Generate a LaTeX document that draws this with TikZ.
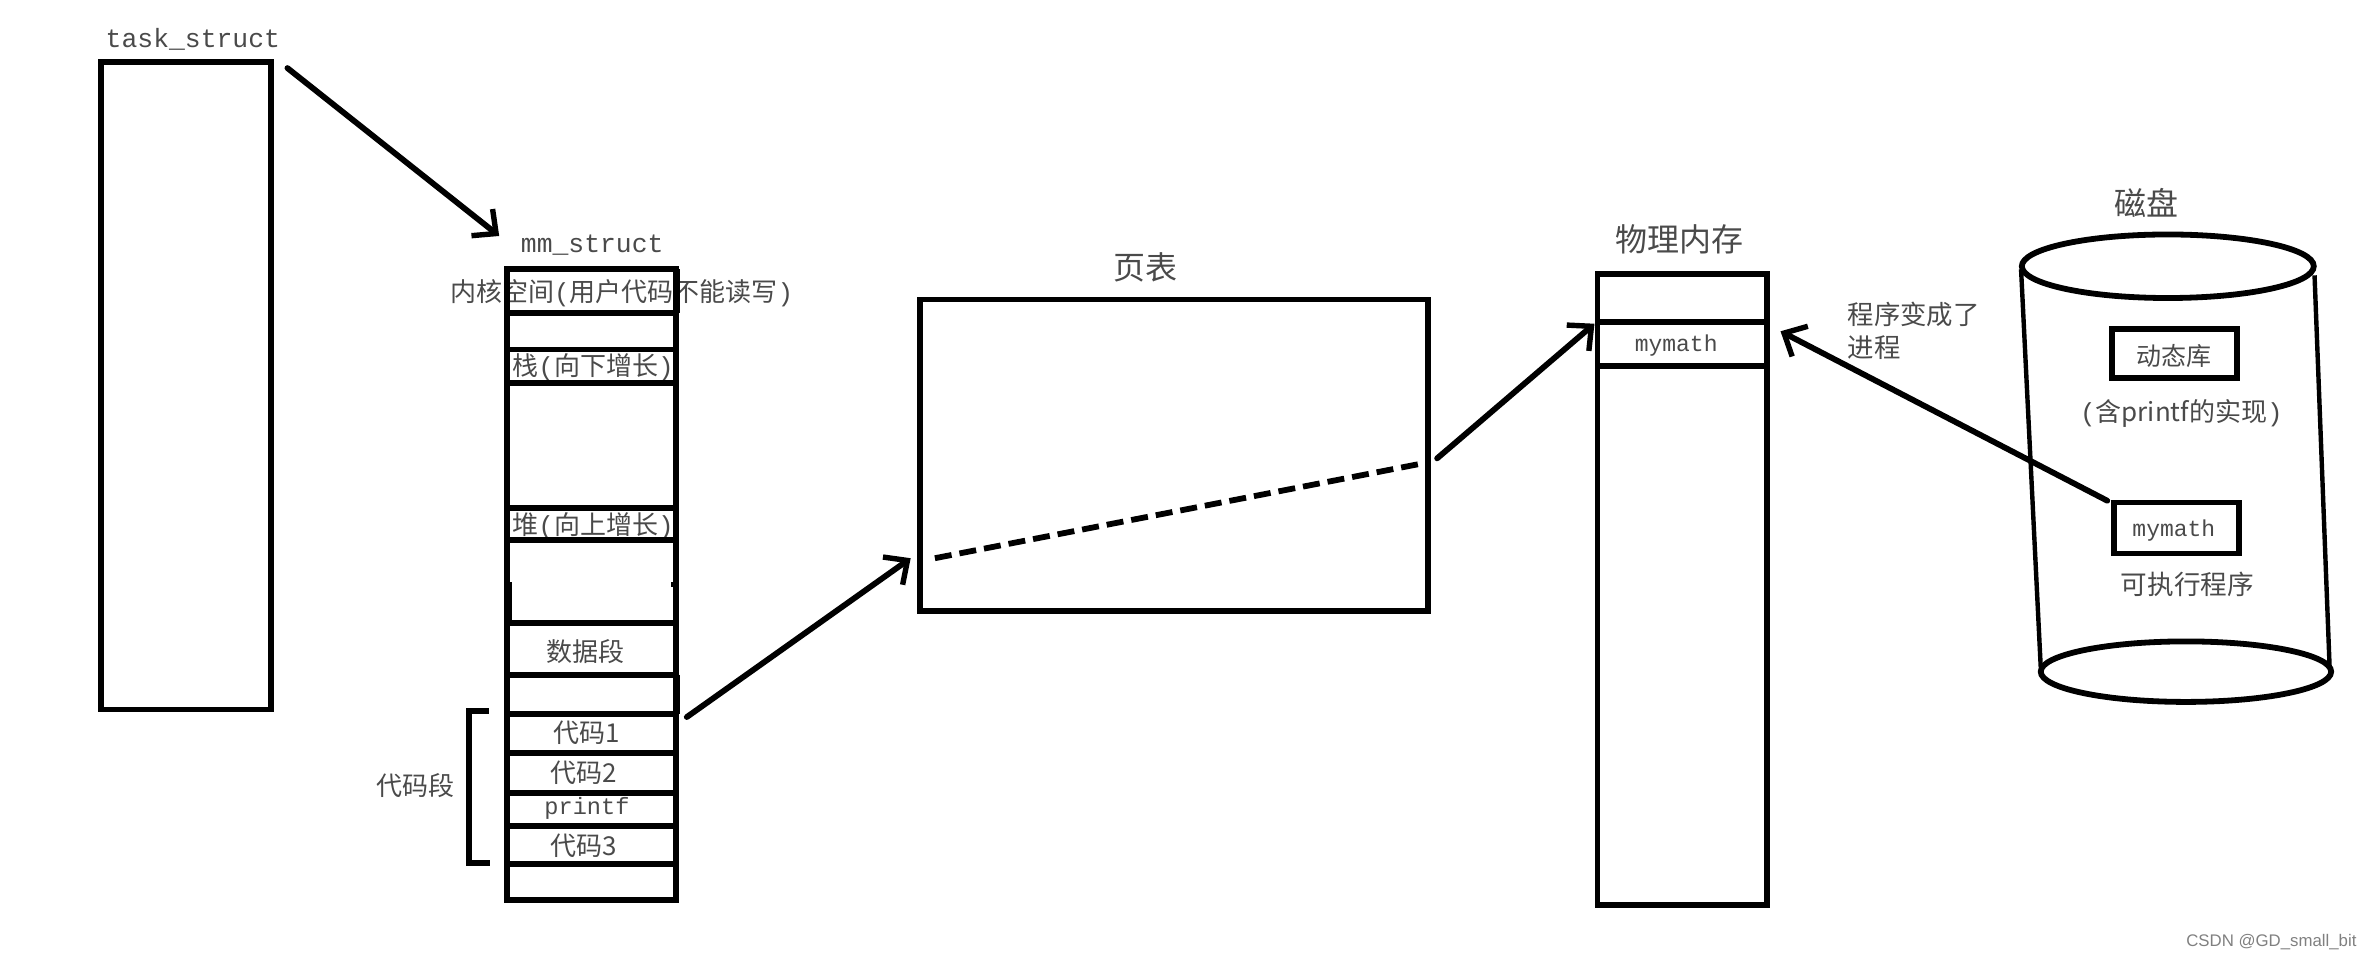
\documentclass[tikz,border=0pt]{standalone}
\usepackage{fontspec}
\setmainfont{Noto Sans CJK SC}
\newfontfamily\cjkf{Noto Sans CJK SC}
\newfontfamily\latf{Liberation Mono}
\newfontfamily\wmf{Liberation Sans}
\newcommand{\lpar}{{\latf(}}
\newcommand{\rpar}{{\latf)}}
\usetikzlibrary{arrows.meta}
\definecolor{txt}{HTML}{4A4A4A}
\tikzset{
  x=0.7564pt,y=-0.7564pt,
  boxline/.style={draw=black,line width=2.9pt},
  box/.style={boxline,minimum width=0pt,minimum height=0pt,inner sep=0pt},
  lab/.style={text=txt,inner sep=0pt,font=\fontsize{13}{15}\selectfont\cjkf},
  biglab/.style={text=txt,inner sep=0pt,font=\fontsize{16}{18}\selectfont\cjkf},
  mono/.style={text=txt,inner sep=0pt,font=\fontsize{13.2}{15}\selectfont\latf},
  conn/.style={draw=black,line width=2.9pt,line cap=round},
  arr/.style={conn,-{Straight Barb[length=9pt,width=17pt,line width=2.7pt]}},
  dash line/.style={conn,line cap=butt,dash pattern=on 8.5pt off 4pt},
  rule/.style={draw=black,line width=2.9pt,line cap=butt}
}
\begin{document}
\begin{tikzpicture}
\useasboundingbox (0,0) rectangle (1568,634.6);
% task_struct
\node[box,minimum width=84.7pt,minimum height=323.7pt] (task) at (123,255) {};
\node[mono] (tasklabel) at (127.5,26) {task\_struct};
% mm_struct labels
\node[mono] (mmlabel) at (391.5,162) {mm\_struct};
\node[lab] (kern) at (411,193.5) {内核空间\lpar 用户代码不能读写\rpar};
\node[lab] (stack) at (392,243) {栈\lpar 向下增长\rpar};
\node[lab] (heap) at (392,348) {堆\lpar 向上增长\rpar};
\node[lab] (data) at (387,431) {数据段};
\node[lab] (c1) at (388,484.5) {代码1};
\node[lab] (c2) at (386,511) {代码2};
\node[mono,font=\fontsize{11.8}{15}\selectfont\latf] (pf) at (388,534.5) {printf};
\node[lab] (c3) at (386,559) {代码3};
\node[lab] (cseg) at (274.5,519) {代码段};
% mm_struct box
\node[box,minimum width=84.7pt,minimum height=315.4pt] (mm) at (391,386.5) {};
\foreach \yy in {207,231,253,336,357,412,446,472,498,524,546,571}{
  \draw[rule] (335,\yy) -- (447,\yy);
}
\draw[rule,line width=1.2pt] (449,178) -- (449,207);
\draw[rule,line width=1.2pt] (449,446) -- (449,472);
\draw[rule,line width=1pt] (337.5,385) -- (337.5,412);
\draw[rule,line width=1pt] (444.5,385) -- (444.5,388);
\draw[rule] (323,470) -- (310,470) -- (310,570.5) -- (324,570.5);
% page table
\node[box,minimum width=254.2pt,minimum height=155.8pt] (pt) at (776,301) {};
\node[biglab] (ptlabel) at (757.5,177) {页表};
% physical memory
\node[box,minimum width=84.7pt,minimum height=315.4pt] (phys) at (1112,389.5) {};
\draw[rule] (1056,213) -- (1168,213);
\draw[rule] (1056,242) -- (1168,242);
\node[biglab] (physlabel) at (1110,158) {物理内存};
\node[mono,font=\fontsize{11.5}{14}\selectfont\latf] (mm1) at (1108,228.5) {mymath};
% disk
\draw[boxline] (1433,176) ellipse [x radius=96.5,y radius=21];
\draw[boxline] (1445,444) ellipse [x radius=96,y radius=20];
\draw[rule,line width=2.2pt] (1336,178) -- (1349,441);
\draw[rule,line width=2.2pt] (1530,182) -- (1540,442);
\node[biglab] (disk) at (1419,134) {磁盘};
\node[box,minimum width=62.5pt,minimum height=24.5pt] (lib) at (1437.5,233.5) {};
\node[lab,font=\fontsize{12.5}{15}\selectfont\cjkf] (libt) at (1437,235.5) {动态库};
\node[lab] (impl) at (1442,273) {\lpar 含printf的实现\rpar};
\node[box,minimum width=62.5pt,minimum height=25.5pt] (exe) at (1439,349) {};
\node[mono,font=\fontsize{11.5}{14}\selectfont\latf] (exet) at (1437,350.5) {mymath};
\node[lab,font=\fontsize{13.3}{15}\selectfont\cjkf] (exel) at (1446,386) {可执行程序};
\node[lab,align=left,font=\fontsize{13.2}{16.5}\selectfont\cjkf] (becomes) at (1265,218.5) {程序变成了\\进程};
% connectors
\coordinate (a1) at (190,45); \coordinate (a2) at (330,156);
\draw[arr] (a1) -- (a2);
\coordinate (b1) at (454,474); \coordinate (b2) at (602,369);
\draw[arr] (b1) -- (b2);
\coordinate (d1) at (618,369); \coordinate (d2) at (942,306);
\draw[dash line] (d1) -- (d2);
\coordinate (e1) at (950,303); \coordinate (e2) at (1054,214);
\draw[arr] (e1) -- (e2);
\coordinate (f1) at (1393,331); \coordinate (f2) at (1177,219);
\draw[arr] (f1) -- (f2);
\node[text=black!50,inner sep=0pt,anchor=east,font=\fontsize{8.4}{10}\selectfont\wmf] (wm) at (1558,623) {CSDN @GD\_small\_bit};
\end{tikzpicture}
\end{document}
